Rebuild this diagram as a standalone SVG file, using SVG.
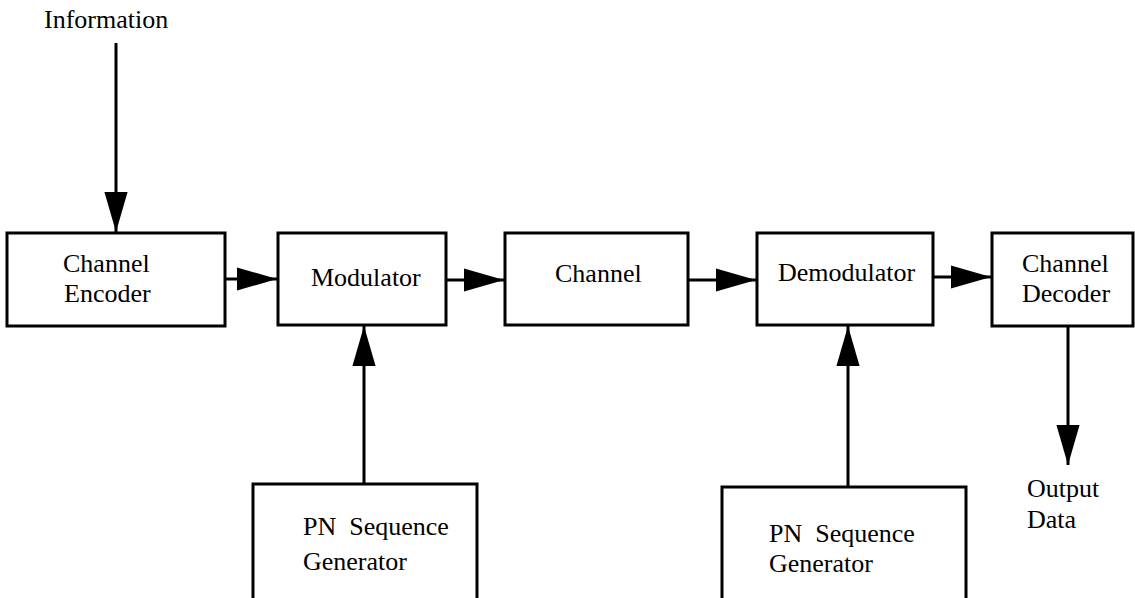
<svg xmlns="http://www.w3.org/2000/svg" width="1135" height="598" viewBox="0 0 1135 598">
<style>
.box{fill:none;stroke:#000;stroke-width:3}
.ln{fill:none;stroke:#000;stroke-width:3}
text{font-family:"Liberation Serif","Times New Roman",serif;font-size:26px;fill:#000}
</style>
<defs>
<marker id="ah" markerUnits="userSpaceOnUse" markerWidth="40" markerHeight="24" viewBox="0 0 38 22" refX="38" refY="11" orient="auto">
<path d="M0,0 L38,11 L0,22 Z" fill="#000"/>
</marker>
</defs>
<rect width="1135" height="598" fill="#fff"/>
<g id="connectors">
<line class="ln" x1="116" y1="43" x2="116" y2="232" marker-end="url(#ah)"/>
<line class="ln" x1="225" y1="279" x2="277" y2="279" marker-end="url(#ah)"/>
<line class="ln" x1="446" y1="280" x2="504" y2="280" marker-end="url(#ah)"/>
<line class="ln" x1="688" y1="280" x2="756" y2="280" marker-end="url(#ah)"/>
<line class="ln" x1="933" y1="277" x2="991" y2="277" marker-end="url(#ah)"/>
<line class="ln" x1="1068" y1="327" x2="1068" y2="465" marker-end="url(#ah)"/>
<line class="ln" x1="364" y1="484" x2="364" y2="326" marker-end="url(#ah)"/>
<line class="ln" x1="848" y1="487" x2="848" y2="326" marker-end="url(#ah)"/>
</g>
<g id="information"><text x="44" y="28">Information</text></g>
<g id="encoder">
<rect class="box" x="7" y="233" width="218" height="93"/>
<text x="63" y="272">Channel</text>
<text x="64" y="302">Encoder</text>
</g>
<g id="modulator">
<rect class="box" x="278" y="233" width="168" height="92"/>
<text x="311" y="286">Modulator</text>
</g>
<g id="channel">
<rect class="box" x="505" y="233" width="183" height="92"/>
<text x="555" y="282">Channel</text>
</g>
<g id="demodulator">
<rect class="box" x="757" y="233" width="176" height="92"/>
<text x="778" y="281">Demodulator</text>
</g>
<g id="decoder">
<rect class="box" x="992" y="233" width="141" height="93"/>
<text x="1022" y="272">Channel</text>
<text x="1022" y="302">Decoder</text>
</g>
<g id="output"><text x="1027" y="497">Output</text><text x="1027" y="528">Data</text></g>
<g id="pn1">
<rect class="box" x="253" y="484" width="224" height="130"/>
<text x="303" y="535" xml:space="preserve">PN  Sequence</text>
<text x="303" y="570">Generator</text>
</g>
<g id="pn2">
<rect class="box" x="722" y="487" width="244" height="130"/>
<text x="769" y="542" xml:space="preserve">PN  Sequence</text>
<text x="769" y="572">Generator</text>
</g>
</svg>
